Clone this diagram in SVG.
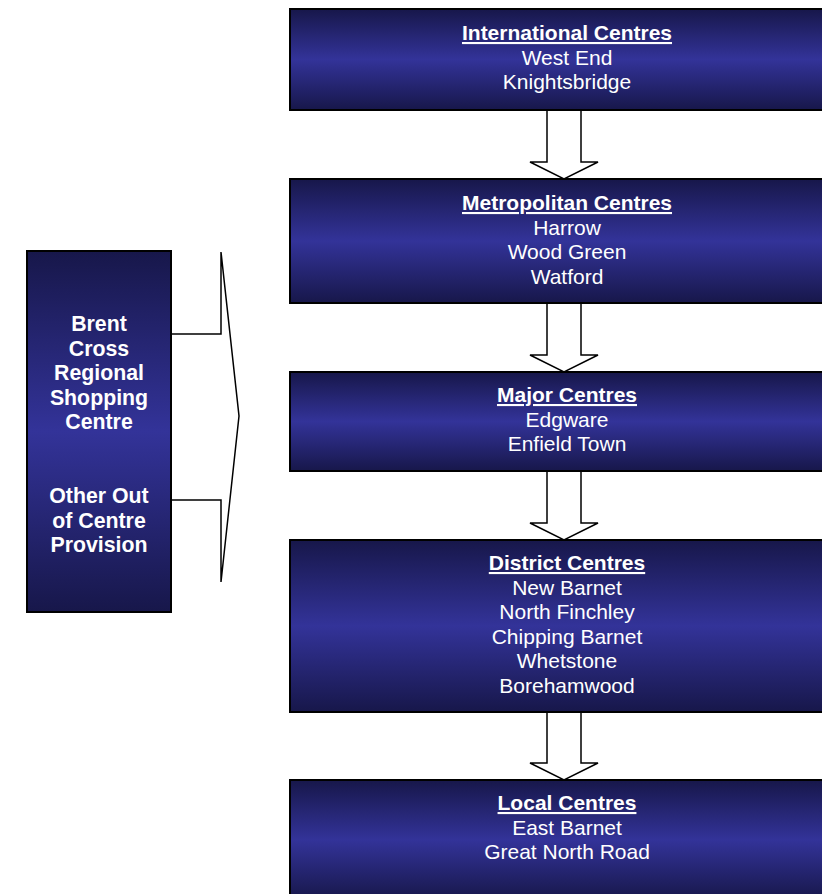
<svg xmlns="http://www.w3.org/2000/svg" width="822" height="894" viewBox="0 0 822 894">
<defs>
<linearGradient id="g" x1="0" y1="0" x2="0" y2="1">
<stop offset="0" stop-color="#17174a"/>
<stop offset="0.5" stop-color="#333399"/>
<stop offset="1" stop-color="#17174a"/>
</linearGradient>
<style>
.box{fill:url(#g);stroke:#000;stroke-width:2}
.t{font-family:"Liberation Sans",Arial,sans-serif;font-size:21px;fill:#fff;text-anchor:middle}
.h{font-weight:bold;text-decoration:underline}
.b{font-weight:bold;font-size:21.3px}
.arr{fill:#fff;stroke:#000;stroke-width:1.5;stroke-linejoin:miter}
</style>
</defs>
<rect width="822" height="894" fill="#fff"/>
<g id="connectors">
<path class="arr" d="M547,110 L547,162 L530,162 L564,179 L598,162 L581,162 L581,110 Z"/>
<path class="arr" d="M547,303 L547,355 L530,355 L564,372 L598,355 L581,355 L581,303 Z"/>
<path class="arr" d="M547,471 L547,523 L530,523 L564,540 L598,523 L581,523 L581,471 Z"/>
<path class="arr" d="M547,712 L547,763 L530,763 L564,780 L598,763 L581,763 L581,712 Z"/>
<path class="arr" d="M160,334 L221,334 L221,252 L239,416 L221,582 L221,500 L160,500 Z"/>
</g>
<g id="international">
<rect class="box" x="290" y="9" width="560" height="101"/>
<text class="t h" x="567" y="40">International Centres</text>
<text class="t" x="567" y="65">West End</text>
<text class="t" x="567" y="89">Knightsbridge</text>
</g>
<g id="metropolitan">
<rect class="box" x="290" y="179" width="560" height="124"/>
<text class="t h" x="567" y="210">Metropolitan Centres</text>
<text class="t" x="567" y="235">Harrow</text>
<text class="t" x="567" y="259">Wood Green</text>
<text class="t" x="567" y="284">Watford</text>
</g>
<g id="major">
<rect class="box" x="290" y="372" width="560" height="99"/>
<text class="t h" x="567" y="402">Major Centres</text>
<text class="t" x="567" y="427">Edgware</text>
<text class="t" x="567" y="451">Enfield Town</text>
</g>
<g id="district">
<rect class="box" x="290" y="540" width="560" height="172"/>
<text class="t h" x="567" y="570">District Centres</text>
<text class="t" x="567" y="595">New Barnet</text>
<text class="t" x="567" y="619">North Finchley</text>
<text class="t" x="567" y="644">Chipping Barnet</text>
<text class="t" x="567" y="668">Whetstone</text>
<text class="t" x="567" y="693">Borehamwood</text>
</g>
<g id="local">
<rect class="box" x="290" y="780" width="560" height="120"/>
<text class="t h" x="567" y="810">Local Centres</text>
<text class="t" x="567" y="835">East Barnet</text>
<text class="t" x="567" y="859">Great North Road</text>
</g>
<g id="outofcentre">
<rect class="box" x="27" y="251" width="144" height="361"/>
<text class="t b" x="99" y="331">Brent</text>
<text class="t b" x="99" y="356">Cross</text>
<text class="t b" x="99" y="380">Regional</text>
<text class="t b" x="99" y="405">Shopping</text>
<text class="t b" x="99" y="429">Centre</text>
<text class="t b" x="99" y="503">Other Out</text>
<text class="t b" x="99" y="528">of Centre</text>
<text class="t b" x="99" y="552">Provision</text>
</g>
</svg>
